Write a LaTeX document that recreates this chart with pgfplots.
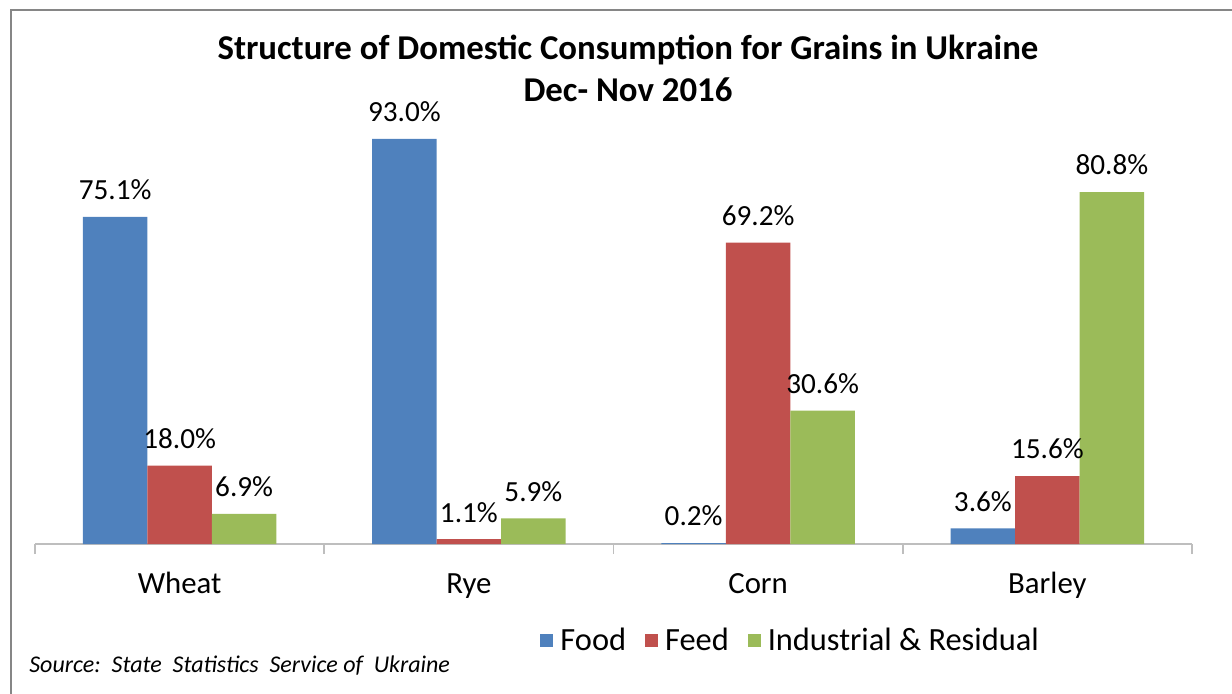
\documentclass[border=0pt]{standalone}
\usepackage{pgfplots}
\pgfplotsset{compat=1.18}
\usepackage{fontspec}
\setmainfont{Carlito}
\definecolor{cblue}{RGB}{79,129,189}
\definecolor{cred}{RGB}{192,80,77}
\definecolor{cgreen}{RGB}{155,187,89}
\definecolor{axgray}{RGB}{190,190,190}
\definecolor{framegray}{RGB}{134,134,134}
\begin{document}
\begin{tikzpicture}
\useasboundingbox (0,0) rectangle (616pt,346.5pt);
\draw[framegray, line width=1.2pt] (5.5pt,-1pt) -- (5.5pt,341.5pt) -- (617pt,341.5pt);
\node[anchor=base, font=\bfseries\fontsize{17.4}{20}\selectfont] at (314pt,317pt) {Structure of Domestic Consumption for Grains in Ukraine};
\node[anchor=base, font=\bfseries\fontsize{17.4}{20}\selectfont] at (314pt,296pt) {Dec- Nov 2016};
\node[anchor=base west, font=\itshape\fontsize{12}{14}\selectfont, inner sep=0pt] at (14.5pt,10.5pt) {Source:\ \ State\ \ Statistics\ \ Service of\ \ Ukraine};
\begin{axis}[
  at={(17.5pt,74.5pt)}, anchor=south west,
  scale only axis,
  width=578.5pt, height=217.75pt,
  ymin=0, ymax=100,
  xmin=-0.5, xmax=3.5,
  enlargelimits=false,
  clip=false,
  axis y line=none,
  axis x line*=bottom,
  axis line style={axgray, line width=0.8pt, -},
  ybar=0pt, bar width=32.25pt,
  xtick={0,1,2,3},
  xticklabels={Wheat,Rye,Corn,Barley},
  major tick length=0pt,
  xticklabel style={anchor=base, yshift=-24.5pt, font=\fontsize{15.4}{18}\selectfont},
  extra x ticks={-0.5,0.5,1.5,2.5,3.5},
  extra x tick labels={},
  extra x tick style={major tick length=5pt, tick align=outside, tick style={axgray, line width=0.8pt}},
  point meta=explicit symbolic,
  nodes near coords,
  every node near coord/.append style={anchor=center, yshift=13.5pt, font=\fontsize{14.6}{17}\selectfont, text=black},
  legend columns=3,
  legend style={draw=none, fill=none, at={(0.654,-0.2227)}, anchor=center,
    font=\fontsize{16.2}{19}\selectfont,
    /tikz/every even column/.append style={column sep=7.5pt}},
  legend image code/.code={\fill[#1] (0pt,-3.25pt) rectangle (6.5pt,3.25pt); \path (8pt,0pt);},
]
\addplot[fill=cblue, draw=none] coordinates {(0,75.1) [75.1\%] (1,93.0) [93.0\%] (2,0.2) [0.2\%] (3,3.6) [3.6\%]};
\addplot[fill=cred, draw=none] coordinates {(0,18.0) [18.0\%] (1,1.1) [1.1\%] (2,69.2) [69.2\%] (3,15.6) [15.6\%]};
\addplot[fill=cgreen, draw=none] coordinates {(0,6.9) [6.9\%] (1,5.9) [5.9\%] (2,30.6) [30.6\%] (3,80.8) [80.8\%]};
\legend{Food,Feed,Industrial \& Residual}
\end{axis}
\end{tikzpicture}
\end{document}
